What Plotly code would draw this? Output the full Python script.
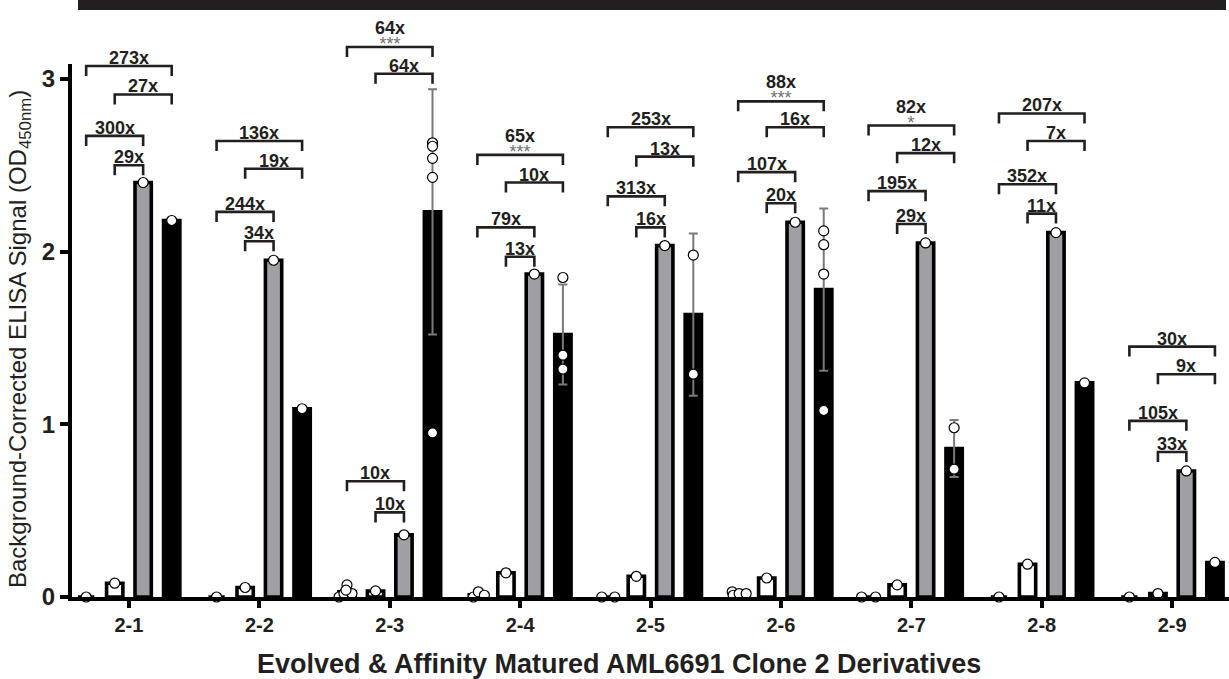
import plotly.graph_objects as go

# ---------------- data ----------------
categories = ["2-1", "2-2", "2-3", "2-4", "2-5", "2-6", "2-7", "2-8", "2-9"]

# bar means (OD450nm), four conditions per clone
bar_white1 = [0.0, 0.0, 0.03, 0.013, 0.0, 0.02, 0.0, 0.0, 0.0]
bar_white2 = [0.08, 0.055, 0.035, 0.14, 0.12, 0.11, 0.07, 0.19, 0.02]
bar_gray = [2.40, 1.95, 0.36, 1.87, 2.035, 2.17, 2.05, 2.11, 0.73]
bar_black = [2.18, 1.09, 2.23, 1.52, 1.635, 1.78, 0.86, 1.24, 0.20]
err_black = [None, None, 0.71, 0.29, 0.47, 0.47, 0.165, None, None]

# individual replicate points
pts_white1 = [[0.0], [0.0], [0.07, 0.0, 0.02, 0.02, 0.04], [0.0, 0.03, 0.01], [0.0, 0.0],
              [0.03, 0.01, 0.02, 0.02], [0.0, 0.0], [0.0], [0.0]]
pts_white2 = [[0.08], [0.055], [0.035], [0.14], [0.12], [0.11], [0.07], [0.19], [0.02]]
pts_gray = [[2.40], [1.95], [0.36], [1.87], [2.035], [2.17], [2.05], [2.11], [0.73]]
pts_black = [[2.18], [1.09], [2.63, 2.61, 2.54, 2.43, 0.95], [1.85, 1.40, 1.32], [1.98, 1.29],
             [2.12, 2.04, 1.87, 1.08], [0.98, 0.74], [1.24], [0.20]]

# fold-change labels
fold_in_gray = ["29x", "34x", "10x", "13x", "16x", "20x", "29x", "11x", "33x"]
fold_out_gray = ["300x", "244x", "10x", "79x", "313x", "107x", "195x", "352x", "105x"]
fold_in_black = ["27x", "19x", "64x", "10x", "13x", "16x", "12x", "7x", "9x"]
fold_out_black = ["273x", "136x", "64x", "65x", "253x", "88x", "82x", "207x", "30x"]
stars_out_black = ["", "", "***", "***", "", "***", "*", "", ""]

# ---------------- layout / style ----------------
Y_IN_GRAY = [2.50, 2.06, 0.49, 1.97, 2.14, 2.28, 2.16, 2.22, 0.84]
Y_OUT_GRAY = [2.67, 2.23, 0.67, 2.14, 2.32, 2.46, 2.35, 2.39, 1.02]
Y_IN_BLACK = [2.91, 2.48, 3.03, 2.40, 2.55, 2.72, 2.57, 2.64, 1.29]
Y_OUT_BLACK = [3.075, 2.64, 3.185, 2.56, 2.72, 2.87, 2.73, 2.80, 1.45]
JIT_WHITE1 = [[0], [0], [0, -8, -3, 5, -1], [-4, 1, 7], [-6, 7], [-6, -5, 1, 8], [-7, 7], [0], [0]]
JIT_BLACK = [[0], [0], [0, 0, 0, 0, 0], [0, 0, 0], [0, 0], [0, 0, 0, 0], [0, 0], [0], [0]]

PX_PER_CAT = 130.4
OFFSETS = [-0.328, -0.109, 0.109, 0.328]
BAR_W = 0.125
DROP = 0.058
INK = "#231f20"
GRAY = "#a0a0a4"
FONT = "Arial, Liberation Sans, sans-serif"

xc = list(range(1, len(categories) + 1))

fig = go.Figure()

series = [
    (bar_white1, "white", None),
    (bar_white2, "white", None),
    (bar_gray, GRAY, None),
    (bar_black, "black", err_black),
]
for k, (vals, col, err) in enumerate(series):
    kw = {}
    if err is not None:
        kw["error_y"] = dict(type="data", array=err, visible=True, color="#7a7a7a",
                             thickness=2, width=4.5)
    fig.add_trace(go.Bar(
        x=[c + OFFSETS[k] for c in xc], y=vals, width=BAR_W,
        marker=dict(color=col, line=dict(color="black", width=3.6)),
        showlegend=False, hoverinfo="skip", **kw))

# replicate points
def add_points(pts, k, jit):
    xs, ys = [], []
    for i, plist in enumerate(pts):
        for j, v in enumerate(plist):
            off = jit[i][j] / PX_PER_CAT if jit is not None else 0
            xs.append(xc[i] + OFFSETS[k] + off)
            ys.append(v)
    fig.add_trace(go.Scatter(
        x=xs, y=ys, mode="markers", cliponaxis=False, showlegend=False, hoverinfo="skip",
        marker=dict(size=10, color="white", line=dict(color="black", width=1.2))))

add_points(pts_white1, 0, JIT_WHITE1)
add_points(pts_white2, 1, None)
add_points(pts_gray, 2, None)
add_points(pts_black, 3, JIT_BLACK)

# brackets
bx, by = [], []
annotations = []
def bracket(i, a, b, yv, label, stars=""):
    xa = xc[i] + OFFSETS[a]
    xb = xc[i] + OFFSETS[b]
    bx.extend([xa, xa, xb, xb, None])
    by.extend([yv - DROP, yv, yv, yv - DROP, None])
    xm = (xa + xb) / 2
    if stars:
        txt = ("<span style='font-size:18px'><b>%s</b></span><br>"
               "<span style='font-size:18px;color:#707070'>%s</span>" % (label, stars))
        annotations.append(dict(x=xm, y=yv, xref="x", yref="y", text=txt, showarrow=False,
                                yanchor="bottom", yshift=-8, borderpad=0,
                                font=dict(family=FONT, size=12, color=INK)))
    else:
        annotations.append(dict(x=xm, y=yv, xref="x", yref="y", text=label, showarrow=False,
                                yanchor="bottom", yshift=-3, borderpad=0,
                                font=dict(family=FONT, size=18, color=INK, weight="bold")))

for i in range(len(categories)):
    bracket(i, 1, 2, Y_IN_GRAY[i], fold_in_gray[i])
    bracket(i, 0, 2, Y_OUT_GRAY[i], fold_out_gray[i])
    bracket(i, 1, 3, Y_IN_BLACK[i], fold_in_black[i])
    bracket(i, 0, 3, Y_OUT_BLACK[i], fold_out_black[i], stars_out_black[i])

fig.add_trace(go.Scatter(x=bx, y=by, mode="lines", line=dict(color=INK, width=2.6),
                         showlegend=False, hoverinfo="skip"))

# axis titles
annotations.append(dict(x=(619 - 70) / 1159, y=-0.112, xref="paper", yref="paper",
                        text="Evolved & Affinity Matured AML6691 Clone 2 Derivatives",
                        showarrow=False, xanchor="center", yanchor="middle",
                        font=dict(family=FONT, size=27, color=INK, weight="bold")))
annotations.append(dict(x=(19 - 70) / 1159, y=1 - 339 / 597, xref="paper", yref="paper",
                        text="Background-Corrected ELISA Signal (OD<sub>450nm</sub>)",
                        showarrow=False, xanchor="center", yanchor="middle", textangle=-90,
                        font=dict(family=FONT, size=24, color=INK)))

shapes = [
    # top banner
    dict(type="rect", xref="paper", yref="paper", x0=(78 - 70) / 1159, x1=(1226 - 70) / 1159,
         y0=1 - 10 / 597, y1=1.0, fillcolor=INK, line=dict(width=0), layer="above"),
    # y-axis line
    dict(type="line", xref="paper", yref="paper", x0=0, x1=0, y0=-4 / 597, y1=1 - 64 / 597,
         line=dict(color="black", width=4), layer="above"),
]

fig.update_layout(
    width=1229, height=679,
    margin=dict(l=70, r=0, t=0, b=82),
    paper_bgcolor="white", plot_bgcolor="white",
    barmode="overlay",
    shapes=shapes, annotations=annotations,
    xaxis=dict(range=[0.548, 9.436], tickmode="array", tickvals=xc, ticktext=categories,
               showgrid=False, zeroline=False, showline=True, linecolor="black", linewidth=4,
               ticks="outside", ticklen=7, tickwidth=4, tickcolor="black",
               tickfont=dict(family=FONT, size=20, color=INK, weight="bold")),
    yaxis=dict(range=[0, 597 / 172.7], tickmode="array", tickvals=[0, 1, 2, 3],
               showgrid=False, zeroline=False, showline=False,
               ticks="outside", ticklen=9, tickwidth=4, tickcolor="black",
               tickfont=dict(family=FONT, size=24, color=INK, weight="bold")),
)

fig.write_html("out.html", config={"displayModeBar": False},
               post_script="document.body.style.margin='0';document.body.style.overflow='hidden';")
